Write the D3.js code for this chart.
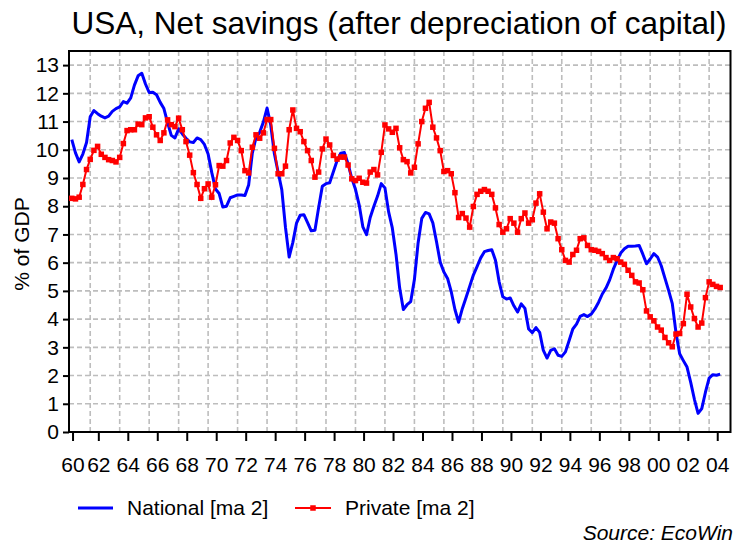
<!DOCTYPE html>
<html lang="en">
<head>
    <meta charset="UTF-8">
    <title>USA, Net savings</title>
    <script src="https://d3js.org/d3.v7.min.js"></script>
    <style>
        body { margin: 0; background: #fff; }
        text { font-family: "Liberation Sans", Arial, sans-serif; }
    </style>
</head>
<body>

    <div id="my_dataviz"></div>

    <script>

        // quarterly observations, first one is 1960 Q3
        var firstQuarter = 1960.75

        var national = [
            10.36, 9.89, 9.57, 9.85, 10.26, 11.17, 11.39, 11.28, 11.19, 11.13,
            11.19, 11.36, 11.46, 11.52, 11.71, 11.65, 11.84, 12.29, 12.62, 12.71,
            12.33, 12.03, 12.04, 11.95, 11.68, 11.46, 10.96, 10.51, 10.42, 10.74,
            10.56, 10.41, 10.28, 10.26, 10.42, 10.36, 10.19, 9.85, 9.19, 8.61,
            8.45, 7.97, 8.00, 8.30, 8.35, 8.40, 8.40, 8.38, 8.75, 9.88,
            10.43, 10.62, 10.98, 11.48, 10.88, 9.85, 9.21, 8.59, 7.25, 6.20,
            6.72, 7.40, 7.68, 7.70, 7.42, 7.13, 7.15, 7.95, 8.71, 8.80,
            8.83, 9.22, 9.61, 9.88, 9.90, 9.50, 8.99, 8.60, 8.05, 7.27,
            6.99, 7.60, 8.00, 8.36, 8.80, 8.65, 7.80, 7.23, 6.30, 5.10,
            4.34, 4.51, 4.62, 5.40, 6.70, 7.57, 7.78, 7.73, 7.41, 6.74,
            6.02, 5.67, 5.44, 4.97, 4.34, 3.89, 4.37, 4.76, 5.16, 5.56,
            5.86, 6.17, 6.39, 6.43, 6.46, 6.09, 5.32, 4.79, 4.71, 4.75,
            4.47, 4.25, 4.54, 4.38, 3.65, 3.52, 3.70, 3.53, 2.89, 2.62,
            2.89, 2.95, 2.72, 2.68, 2.84, 3.24, 3.65, 3.82, 4.10, 4.16,
            4.09, 4.18, 4.36, 4.60, 4.89, 5.10, 5.39, 5.77, 6.07, 6.34,
            6.49, 6.58, 6.58, 6.59, 6.61, 6.30, 5.96, 6.13, 6.32, 6.20,
            5.89, 5.45, 5.02, 4.55, 3.52, 2.77, 2.53, 2.30, 1.76, 1.16,
            0.66, 0.83, 1.41, 1.91, 2.03, 2.01, 2.05
        ]

        var privateSav = [
            8.28, 8.26, 8.32, 8.77, 9.30, 9.66, 9.98, 10.12, 9.84, 9.73,
            9.65, 9.62, 9.57, 9.73, 10.22, 10.68, 10.71, 10.71, 10.91, 10.89,
            11.13, 11.17, 10.80, 10.53, 10.33, 10.60, 11.06, 10.89, 10.82, 11.12,
            10.71, 10.29, 9.81, 9.19, 8.77, 8.28, 8.62, 8.79, 8.32, 8.76,
            9.44, 9.42, 9.62, 10.24, 10.44, 10.33, 9.97, 9.26, 9.18, 10.09,
            10.53, 10.41, 10.60, 11.07, 11.07, 10.05, 9.15, 9.15, 9.42, 10.71,
            11.41, 10.76, 10.64, 10.29, 9.97, 9.62, 9.03, 9.21, 10.03, 10.38,
            10.17, 9.80, 9.67, 9.74, 9.74, 9.46, 8.97, 8.91, 8.99, 8.85,
            8.82, 9.21, 9.30, 9.11, 9.91, 10.88, 10.74, 10.62, 10.76, 10.07,
            9.65, 9.58, 9.18, 9.38, 10.21, 11.00, 11.47, 11.68, 10.80, 10.42,
            9.97, 9.23, 9.26, 9.15, 8.48, 7.60, 7.74, 7.58, 7.26, 7.99,
            8.42, 8.53, 8.59, 8.53, 8.42, 7.94, 7.35, 7.08, 7.20, 7.56,
            7.40, 7.08, 7.56, 7.76, 7.40, 7.52, 8.11, 8.44, 7.79, 7.20,
            7.44, 7.40, 6.85, 6.46, 6.08, 6.02, 6.29, 6.44, 6.85, 6.88,
            6.61, 6.46, 6.44, 6.40, 6.32, 6.18, 6.08, 6.18, 6.14, 6.02,
            5.94, 5.73, 5.55, 5.32, 5.28, 5.04, 4.29, 4.08, 3.94, 3.72,
            3.61, 3.35, 3.16, 3.02, 3.47, 3.49, 3.84, 4.88, 4.43, 4.02,
            3.72, 3.86, 4.76, 5.32, 5.23, 5.16, 5.12
        ]

        // x axis: one label every second year
        var tickYears = [1960, 1962, 1964, 1966, 1968, 1970, 1972, 1974, 1976, 1978, 1980,
                         1982, 1984, 1986, 1988, 1990, 1992, 1994, 1996, 1998, 2000, 2002, 2004]
        var tickLabels = ["60", "62", "64", "66", "68", "70", "72", "74", "76", "78", "80",
                          "82", "84", "86", "88", "90", "92", "94", "96", "98", "00", "02", "04"]
        var yTicks = [0, 1, 2, 3, 4, 5, 6, 7, 8, 9, 10, 11, 12, 13]

        var seriesNames = ["National [ma 2]", "Private [ma 2]"]

        // size of the picture and of the plot frame
        var W = 736, H = 545
        var frame = {left: 69, top: 51, right: 730.5, bottom: 432}

        var svg = d3.select("#my_dataviz")
            .append("svg")
                .attr("width", W)
                .attr("height", H)

        var x = d3.scaleLinear()
            .domain([1960.56, 2005.45])
            .range([frame.left, frame.right])

        var y = d3.scaleLinear()
            .domain([0, 13.5])
            .range([frame.bottom, frame.top])

        // grid lines (dashed gray)
        var grid = svg.append("g")
        grid.selectAll("line.h")
            .data(yTicks.filter(function(d){ return d > 0 }))
            .enter().append("line")
                .attr("x1", frame.left).attr("x2", frame.right)
                .attr("y1", function(d){ return y(d) })
                .attr("y2", function(d){ return y(d) })
        grid.selectAll("line.v")
            .data(tickYears.slice(1))
            .enter().append("line")
                .attr("x1", function(d){ return x(d) })
                .attr("x2", function(d){ return x(d) })
                .attr("y1", frame.top).attr("y2", frame.bottom)
        grid.selectAll("line")
            .attr("stroke", "#bdbdbd")
            .attr("stroke-width", 1.6)
            .attr("stroke-dasharray", "5,3")

        // axes
        var tickPos = tickYears.map(function(d){ return Math.max(d + 0.55, firstQuarter + 0.05) })
        var xAxis = svg.append("g")
            .attr("transform", "translate(0," + frame.bottom + ")")
            .call(d3.axisBottom(x)
                .tickValues(tickPos)
                .tickFormat(function(d, i){ return tickLabels[i] })
                .tickSize(9)
                .tickPadding(16))
        xAxis.select(".domain").remove()

        var yAxis = svg.append("g")
            .attr("transform", "translate(" + frame.left + ",0)")
            .call(d3.axisLeft(y)
                .tickValues(yTicks)
                .tickSize(6)
                .tickPadding(4))
        yAxis.select(".domain").remove()

        svg.selectAll(".tick line").attr("stroke", "#000").attr("stroke-width", 2)
        svg.selectAll(".tick text")
            .attr("font-size", 21)
            .attr("fill", "#000")
            .style("font-family", "'Liberation Sans', Arial, sans-serif")

        // frame
        svg.append("rect")
            .attr("x", frame.left).attr("y", frame.top)
            .attr("width", frame.right - frame.left)
            .attr("height", frame.bottom - frame.top)
            .attr("fill", "none")
            .attr("stroke", "#000")
            .attr("stroke-width", 2)

        svg.append("clipPath").attr("id", "clip")
            .append("rect")
                .attr("x", frame.left).attr("y", frame.top)
                .attr("width", frame.right - frame.left)
                .attr("height", frame.bottom - frame.top)

        var line = d3.line()
            .x(function(d, i){ return x(firstQuarter + i * 0.25) })
            .y(function(d){ return y(d) })

        var plot = svg.append("g").attr("clip-path", "url(#clip)")

        plot.append("path")
            .datum(national)
            .attr("d", line)
            .attr("fill", "none")
            .attr("stroke", "#0000ff")
            .attr("stroke-width", 3)
            .attr("stroke-linejoin", "round")

        plot.append("path")
            .datum(privateSav)
            .attr("d", line)
            .attr("fill", "none")
            .attr("stroke", "#ff0000")
            .attr("stroke-width", 2)

        var mk = 5.5
        plot.selectAll("rect.mark")
            .data(privateSav)
            .enter().append("rect")
                .attr("class", "mark")
                .attr("x", function(d, i){ return x(firstQuarter + i * 0.25) - mk / 2 })
                .attr("y", function(d){ return y(d) - mk / 2 })
                .attr("width", mk)
                .attr("height", mk)
                .attr("fill", "#ff0000")

        // title and labels
        svg.append("text")
            .attr("x", 399).attr("y", 34)
            .attr("text-anchor", "middle")
            .attr("font-size", 31.5)
            .text("USA, Net savings (after depreciation of capital)")

        svg.append("text")
            .attr("transform", "translate(29," + 244 + ") rotate(-90)")
            .attr("text-anchor", "middle")
            .attr("font-size", 21)
            .text("% of GDP")

        // legend
        var legend = svg.append("g")
        legend.append("line")
            .attr("x1", 78).attr("x2", 113).attr("y1", 508).attr("y2", 508)
            .attr("stroke", "#0000ff").attr("stroke-width", 3)
        legend.append("text")
            .attr("x", 127).attr("y", 515)
            .attr("font-size", 21)
            .text(seriesNames[0])
        legend.append("line")
            .attr("x1", 295).attr("x2", 331).attr("y1", 508).attr("y2", 508)
            .attr("stroke", "#ff0000").attr("stroke-width", 2)
        legend.append("rect")
            .attr("x", 313 - mk / 2).attr("y", 508 - mk / 2)
            .attr("width", mk).attr("height", mk)
            .attr("fill", "#ff0000")
        legend.append("text")
            .attr("x", 345).attr("y", 515)
            .attr("font-size", 21)
            .text(seriesNames[1])

        svg.append("text")
            .attr("x", 733).attr("y", 540)
            .attr("text-anchor", "end")
            .attr("font-size", 21)
            .attr("font-style", "italic")
            .text("Source: EcoWin")

    </script>

</body>
</html>
